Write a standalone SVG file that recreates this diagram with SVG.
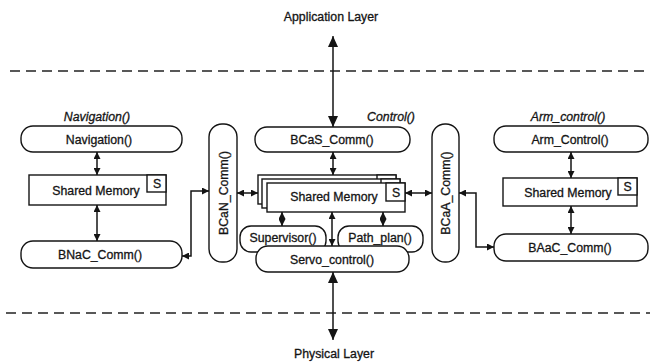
<svg xmlns="http://www.w3.org/2000/svg" width="656" height="363" viewBox="0 0 656 363">
  <style>
    text { font-family: "Liberation Sans", Arial, sans-serif; font-size: 12.3px; fill: #141414; stroke: #141414; stroke-width: 0.3; text-anchor: middle; }
    .it { font-style: italic; }
    .box { fill: #fff; stroke: #141414; stroke-width: 1.4; }
    .sep { stroke: #222; stroke-width: 1.3; stroke-dasharray: 10 6; fill: none; }
    .ln { stroke: #141414; stroke-width: 1.5; fill: none; }
  </style>
  <defs>
    <marker id="ah" markerUnits="userSpaceOnUse" markerWidth="10" markerHeight="10" refX="11" refY="5" orient="auto-start-reverse">
      <path d="M0,0 L11,5 L0,10 z" fill="#141414"/>
    </marker>
    <marker id="ahs" markerUnits="userSpaceOnUse" markerWidth="7" markerHeight="7" refX="7" refY="3.5" orient="auto-start-reverse">
      <path d="M0,0 L7,3.5 L0,7 z" fill="#141414"/>
    </marker>
  </defs>

  <!-- layer separators -->
  <line class="sep" x1="10" y1="71" x2="650" y2="71"/>
  <line class="sep" x1="6" y1="313" x2="650" y2="313"/>
  <text x="331" y="21">Application Layer</text>
  <text x="334" y="358">Physical Layer</text>

  <!-- process titles -->
  <text class="it" x="97" y="121">Navigation()</text>
  <text class="it" x="391" y="121">Control()</text>
  <text class="it" x="568" y="121">Arm_control()</text>

  <!-- navigation process -->
  <g id="navigation">
    <rect class="box" x="21" y="126" width="161" height="26" rx="12"/>
    <text x="99" y="143.5">Navigation()</text>
  </g>
  <g id="nav-shm">
    <rect class="box" x="29" y="175" width="137" height="30"/>
    <rect class="box" x="147" y="175" width="19" height="17"/>
    <text x="157" y="188">S</text>
    <text x="96" y="195">Shared Memory</text>
  </g>
  <g id="bnac-comm">
    <rect class="box" x="21" y="241" width="161" height="27" rx="12"/>
    <text x="100" y="259">BNaC_Comm()</text>
  </g>
  <g id="bcan-comm">
    <rect class="box" x="209" y="124" width="28" height="138" rx="13"/>
    <text transform="translate(227.5 193) rotate(-90)">BCaN_Comm()</text>
  </g>

  <!-- control process -->
  <g id="bcas-comm">
    <rect class="box" x="255" y="127" width="155" height="25" rx="12"/>
    <text x="332" y="144">BCaS_Comm()</text>
  </g>
  <g id="ctl-shm">
    <rect class="box" x="258" y="175" width="138" height="29"/>
    <rect class="box" x="377" y="175" width="19" height="17"/>
    <rect class="box" x="262" y="179" width="138" height="29"/>
    <rect class="box" x="381" y="179" width="19" height="17"/>
    <rect class="box" x="267" y="183" width="138" height="29"/>
    <rect class="box" x="386" y="183" width="19" height="18"/>
    <text x="396" y="196.5">S</text>
    <text x="334" y="201">Shared Memory</text>
  </g>
  <g id="supervisor">
    <rect class="box" x="240" y="226" width="86" height="26" rx="11"/>
    <text x="283" y="242">Supervisor()</text>
  </g>
  <g id="path-plan">
    <rect class="box" x="338" y="226" width="85" height="26" rx="11"/>
    <text x="380" y="242">Path_plan()</text>
  </g>
  <g id="servo-control">
    <rect class="box" x="256" y="246" width="153" height="26" rx="12"/>
    <text x="332" y="263.5">Servo_control()</text>
  </g>
  <g id="bcaa-comm">
    <rect class="box" x="432" y="124" width="27" height="138" rx="13"/>
    <text transform="translate(450 193) rotate(-90)">BCaA_Comm()</text>
  </g>

  <!-- arm process -->
  <g id="arm-control">
    <rect class="box" x="494" y="126" width="154" height="26" rx="12"/>
    <text x="570" y="143.5">Arm_Control()</text>
  </g>
  <g id="arm-shm">
    <rect class="box" x="503" y="178" width="134" height="28"/>
    <rect class="box" x="618" y="178" width="19" height="17"/>
    <text x="627.5" y="191">S</text>
    <text x="568" y="197">Shared Memory</text>
  </g>
  <g id="baac-comm">
    <rect class="box" x="494" y="234" width="154" height="27" rx="12"/>
    <text x="570" y="252">BAaC_Comm()</text>
  </g>

  <!-- connectors -->
  <g id="connectors">
    <line class="ln" x1="333" y1="36" x2="333" y2="127" marker-start="url(#ah)" marker-end="url(#ah)"/>
    <line class="ln" x1="333" y1="272" x2="333" y2="340" marker-start="url(#ah)" marker-end="url(#ah)"/>

    <line class="ln" x1="97" y1="152" x2="97" y2="175" marker-start="url(#ahs)" marker-end="url(#ahs)"/>
    <line class="ln" x1="97" y1="205" x2="97" y2="241" marker-start="url(#ahs)" marker-end="url(#ahs)"/>
    <polyline class="ln" points="209,191 191,191 191,256 182,256" marker-start="url(#ahs)" marker-end="url(#ahs)"/>

    <line class="ln" x1="333" y1="152" x2="333" y2="175" marker-start="url(#ahs)" marker-end="url(#ahs)"/>
    <line class="ln" x1="237" y1="193" x2="258" y2="193" marker-start="url(#ahs)" marker-end="url(#ahs)"/>
    <line class="ln" x1="405" y1="193" x2="432" y2="193" marker-start="url(#ahs)" marker-end="url(#ahs)"/>
    <line class="ln" x1="282" y1="212" x2="282" y2="226" marker-start="url(#ahs)" marker-end="url(#ahs)"/>
    <line class="ln" x1="383" y1="212" x2="383" y2="226" marker-start="url(#ahs)" marker-end="url(#ahs)"/>
    <line class="ln" x1="332" y1="212" x2="332" y2="246" marker-start="url(#ahs)" marker-end="url(#ahs)"/>

    <polyline class="ln" points="459,193 476,193 476,247 494,247" marker-start="url(#ahs)" marker-end="url(#ahs)"/>
    <line class="ln" x1="571" y1="152" x2="571" y2="178" marker-start="url(#ahs)" marker-end="url(#ahs)"/>
    <line class="ln" x1="571" y1="206" x2="571" y2="234" marker-start="url(#ahs)" marker-end="url(#ahs)"/>
  </g>
</svg>
